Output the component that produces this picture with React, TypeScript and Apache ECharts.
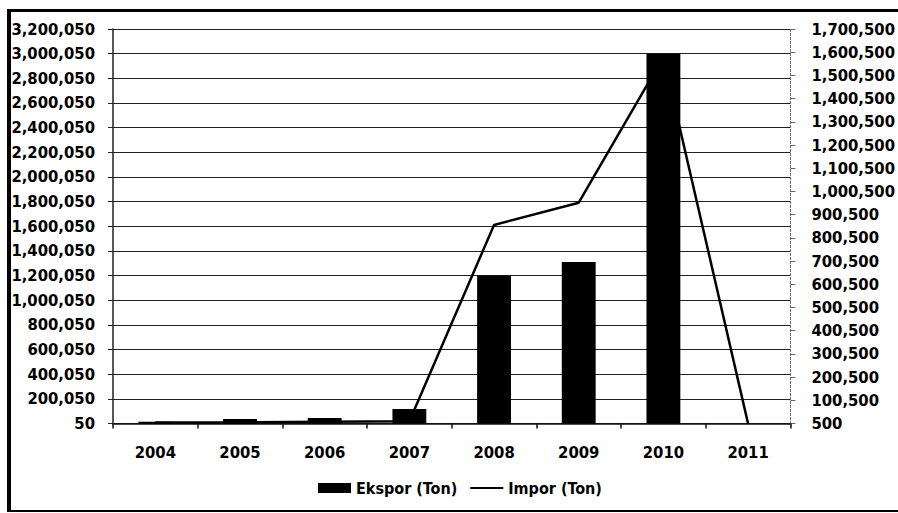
import React, { useEffect, useRef } from "react";
import * as echarts from "echarts";

const categories = ["2004", "2005", "2006", "2007", "2008", "2009", "2010", "2011"];
const eksporValues = [15000, 36000, 45000, 117000, 1200000, 1310000, 3000000, 0];
const imporValues = [5000, 5000, 8000, 10000, 856000, 952000, 1580000, 0];
const leftAxis = { min: 50, max: 3200050, interval: 200000 };
const rightAxis = { min: 500, max: 1700500, interval: 100000 };
const seriesNames = ["Ekspor (Ton)", "Impor (Ton)"];

const FONT = "'DejaVu Sans Condensed', 'Liberation Sans Narrow', 'DejaVu Sans', sans-serif";
const fmt = (v: number) => Math.round(v).toLocaleString("en-US");

export default function App() {
  const ref = useRef<HTMLDivElement>(null);
  useEffect(() => {
    document.body.style.margin = "0";
    const chart = echarts.init(ref.current!, null, { renderer: "svg" });
    const labelStyle = { color: "#000", fontFamily: FONT, fontWeight: "bold" as const, fontSize: 16.5 };
    chart.setOption({
      animation: false,
      backgroundColor: "#fff",
      grid: { left: 113, right: 104, top: 29, bottom: 89.5, containLabel: false },
      legend: {
        left: 313,
        top: 475,
        itemWidth: 33,
        itemHeight: 10,
        itemGap: 12,
        textStyle: { ...labelStyle, fontSize: 16 },
        data: [
          { name: seriesNames[0], icon: "rect" },
          { name: seriesNames[1], itemStyle: { opacity: 0, color: "transparent", borderWidth: 0 } },
        ],
      },
      xAxis: {
        type: "category",
        data: categories,
        boundaryGap: true,
        axisLine: { lineStyle: { color: "#111", width: 1.5 } },
        axisTick: { show: true, length: 5, lineStyle: { color: "#111", width: 1.5 } },
        axisLabel: { ...labelStyle, margin: 20 },
      },
      yAxis: [
        {
          type: "value",
          position: "left",
          min: leftAxis.min,
          max: leftAxis.max,
          interval: leftAxis.interval,
          axisLine: { show: true, lineStyle: { color: "#222", width: 1.5 } },
          axisTick: { show: true, length: 5, lineStyle: { color: "#222" } },
          axisLabel: { ...labelStyle, margin: 18, formatter: (v: number) => fmt(v) },
          splitLine: { show: true, lineStyle: { color: "#222", width: 1.2 } },
        },
        {
          type: "value",
          position: "right",
          min: rightAxis.min,
          max: rightAxis.max,
          interval: rightAxis.interval,
          axisLine: { show: true, lineStyle: { color: "#666", width: 1, type: [2, 2] } },
          axisTick: { show: true, length: 5, lineStyle: { color: "#666" } },
          axisLabel: { ...labelStyle, margin: 21, formatter: (v: number) => fmt(v) },
          splitLine: { show: false },
        },
      ],
      series: [
        {
          name: seriesNames[0],
          type: "bar",
          yAxisIndex: 0,
          data: eksporValues,
          barWidth: "40%",
          itemStyle: { color: "#000" },
        },
        {
          name: seriesNames[1],
          type: "line",
          yAxisIndex: 1,
          data: imporValues,
          symbol: "none",
          lineStyle: { color: "#000", width: 2.5 },
          itemStyle: { color: "#000" },
        },
      ],
      graphic: [
        { type: "rect", shape: { x: 7, y: 9, width: 891, height: 3 }, style: { fill: "#000" } },
        { type: "rect", shape: { x: 7, y: 9, width: 4, height: 503 }, style: { fill: "#000" } },
        { type: "rect", shape: { x: 7, y: 510, width: 891, height: 2 }, style: { fill: "#000" } },
      ],
    });
    return () => chart.dispose();
  }, []);
  return <div ref={ref} style={{ width: 898, height: 513 }} />;
}
